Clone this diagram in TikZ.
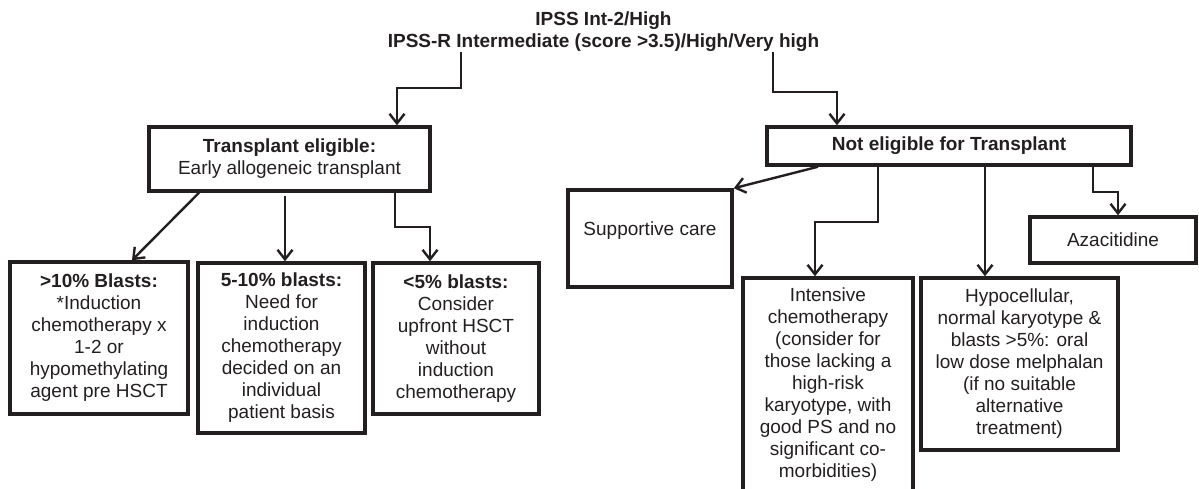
\documentclass[tikz,border=0pt]{standalone}
\usepackage{fontspec}
\setmainfont{Liberation Sans}
\usetikzlibrary{arrows.meta}
\definecolor{ink}{HTML}{231F20}
\begin{document}
\begin{tikzpicture}[x=1pt,y=-1pt,
  txt/.style={text=ink, align=center, font=\fontsize{19}{22}\selectfont, inner sep=0pt},
  box/.style={txt, draw=ink, line width=3.5pt},
  arr/.style={draw=ink, line width=2.4pt, -{Straight Barb[length=9.5pt,width=15pt]}}]
\useasboundingbox (0,0) rectangle (1199,489);
\clip (0,0) rectangle (1199,489);
% title
\node[txt, font=\fontsize{19}{22}\selectfont\bfseries] (title) at (603.5,32)
  {IPSS Int-2/High\\IPSS-R Intermediate (score >3.5)/High/Very high};
% level 1
\node[box, minimum width=281pt, minimum height=64pt] (te) at (289.5,159)
  {\textbf{Transplant eligible:}\\Early allogeneic transplant};
\node[box, minimum width=364pt, minimum height=38pt] (ne) at (949,146)
  {\textbf{Not eligible for Transplant}};
% left children
\node[box, minimum width=178pt, minimum height=152pt] (bA) at (99,338)
  {\textbf{>10\% Blasts:}\\*Induction\\chemotherapy x\\1-2 or\\hypomethylating\\agent pre HSCT};
\node[box, minimum width=167pt, minimum height=170pt] (bB) at (281.5,348)
  {\textbf{5-10\% blasts:}\\Need for\\induction\\chemotherapy\\decided on an\\individual\\patient basis};
\node[box, minimum width=166pt, minimum height=151pt] (bC) at (456,338.5)
  {\textbf{<5\% blasts:}\\Consider\\upfront HSCT\\without\\induction\\chemotherapy};
% right children
\node[box, minimum width=164pt, minimum height=97pt] (sc) at (650,238.5) {};
\node[txt] (sctxt) at (650,231) {Supportive care};
\node[box, minimum width=166pt, minimum height=46pt] (az) at (1113,240) {Azacitidine};
\node[box, minimum width=170pt, minimum height=213pt] (ic) at (828,384.5)
  {Intensive\\chemotherapy\\(consider for\\those lacking a\\high-risk\\karyotype, with\\good PS and no\\significant co-\\morbidities)};
\node[box, minimum width=197pt, minimum height=172pt] (hc) at (1019.5,364)
  {Hypocellular,\\normal karyotype \&\\blasts >5\%: oral\\low dose melphalan\\(if no suitable\\alternative\\treatment)};
% connectors from title
\draw[arr] (title.south -| 461,0) -- (461,88) -| (te.north -| 397,0);
\draw[arr] (title.south -| 773,0) -- (773,92) -| (ne.north -| 837,0);
% connectors from transplant eligible
\draw[arr] (te.south -| 199,0) -- (bA.north -| 132,0);
\draw[arr, shorten <=3pt] (te.south -| 285,0) -- (bB.north -| 285,0);
\draw[arr] (te.south -| 395,0) -- (395,227) -| (bC.north -| 430,0);
% connectors from not eligible
\draw[arr] (ne.south -| 818,0) -- (sc.north east);
\draw[arr] (ne.south -| 878,0) -- (878,222) -| (ic.north -| 815,0);
\draw[arr] (ne.south -| 985,0) -- (hc.north -| 985,0);
\draw[arr] (ne.south -| 1093,0) -- (1093,192) -| (az.north -| 1118,0);
\end{tikzpicture}
\end{document}
